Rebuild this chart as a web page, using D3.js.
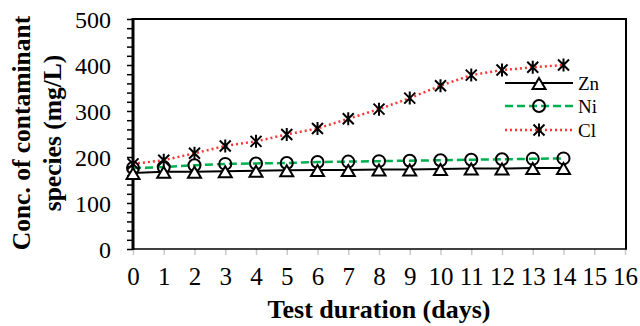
<!DOCTYPE html>
<html><head><meta charset="utf-8">
<script src="https://cdn.jsdelivr.net/npm/d3@7"></script>
<style>body{margin:0;background:#fff}svg{display:block}</style>
</head><body>
<svg id="c" width="640" height="326"></svg>
<script>
const days = [0,1,2,3,4,5,6,7,8,9,10,11,12,13,14];
const zn = [165,168,168,169,170,171,172,172,173,173,174,175,175,176,176];
const ni = [176,178,182,185,186,187,189,190,191,192,193,194,195,196,197];
const cl = [185,193,208,224,234,249,262,283,304,328,355,378,389,395,400];
const xTicks = d3.range(0,17);
const yTicks = [0,100,200,300,400,500];
const seriesNames = ["Zn","Ni","Cl"];

const FF = '"Liberation Serif"';
const svg = d3.select("#c");
const L=133, R=626, T=19, B=249;
const x = d3.scaleLinear().domain([0,16]).range([L,625]);
const y = d3.scaleLinear().domain([0,500]).range([B,T]);

// x axis ticks (gray)
const xa = svg.append("g").attr("transform",`translate(0,${B})`)
  .call(d3.axisBottom(x).tickValues(xTicks).tickSize(6).tickSizeOuter(0).tickFormat(d3.format("d")));
xa.select(".domain").remove();
xa.selectAll(".tick line").attr("stroke","#c8c8c8").attr("stroke-width",1.5);
xa.selectAll(".tick text").style("font-family",FF).style("font-size","25px").attr("fill","#000").attr("dy","0.95em").attr("y",12);

// y axis
const ya = svg.append("g").attr("transform",`translate(${L},0)`)
  .call(d3.axisLeft(y).tickValues(d3.range(0,501,20)).tickSize(6).tickSizeOuter(0)
    .tickFormat(d=> yTicks.includes(d)? d : ""));
ya.select(".domain").remove();
ya.selectAll(".tick line").attr("stroke","#000").attr("stroke-width",1.5);
ya.selectAll(".tick text").style("font-family",FF).style("font-size","24px").attr("fill","#000").attr("x",-22).attr("dy","0.35em");

// frame
svg.append("line").attr("x1",L).attr("x2",R+1).attr("y1",T).attr("y2",T).attr("stroke","#000").attr("stroke-width",2);
svg.append("line").attr("x1",R).attr("x2",R).attr("y1",T).attr("y2",B).attr("stroke","#000").attr("stroke-width",2);
svg.append("line").attr("x1",L).attr("x2",R+1).attr("y1",B).attr("y2",B).attr("stroke","#000").attr("stroke-width",1.5);
svg.append("line").attr("x1",L).attr("x2",L).attr("y1",T-1).attr("y2",B+1).attr("stroke","#000").attr("stroke-width",3);

const line = d3.line().x((d,i)=>x(days[i])).y(d=>y(d));
const styles = {
  Zn:{data:zn, color:"#000", dash:null, width:2},
  Ni:{data:ni, color:"#00b050", dash:"8,4", width:2.5},
  Cl:{data:cl, color:"#ff3333", dash:"2,3", width:2.5}
};

function marker(g, name, cx, cy){
  if(name==="Zn"){
    g.append("path").attr("d",`M${cx},${cy-5}L${cx+6.5},${cy+6}L${cx-6.5},${cy+6}Z`)
      .attr("fill","#fff").attr("stroke","#000").attr("stroke-width",2);
  } else if(name==="Ni"){
    g.append("circle").attr("cx",cx).attr("cy",cy).attr("r",6)
      .attr("fill","none").attr("stroke","#000").attr("stroke-width",2);
  } else {
    const s=5.5;
    g.append("path").attr("d",`M${cx-s},${cy-s}L${cx+s},${cy+s}M${cx-s},${cy+s}L${cx+s},${cy-s}M${cx},${cy-s-1}L${cx},${cy+s+1}`)
      .attr("stroke","#000").attr("stroke-width",2);
  }
}

seriesNames.forEach(n=>{
  const s=styles[n];
  svg.append("path").datum(s.data).attr("d",line).attr("fill","none")
    .attr("stroke",s.color).attr("stroke-width",s.width).attr("stroke-dasharray",s.dash);
});
["Cl","Ni","Zn"].forEach(n=>{
  const g=svg.append("g");
  styles[n].data.forEach((v,i)=>marker(g,n,x(days[i]),y(v)));
});

// legend
const legY=[83,106,130];
seriesNames.forEach((n,i)=>{
  const s=styles[n];
  svg.append("line").attr("x1",505).attr("x2",573).attr("y1",legY[i]).attr("y2",legY[i])
    .attr("stroke",s.color).attr("stroke-width",s.width).attr("stroke-dasharray",s.dash);
  marker(svg,n,539,legY[i]);
  svg.append("text").attr("x",578).attr("y",legY[i]).attr("dy","0.35em")
    .style("font-family",FF).style("font-size","19px").text(n);
});

// axis titles
svg.append("text").attr("x",(L+625)/2).attr("y",318).attr("text-anchor","middle")
  .style("font-family",FF).style("font-size","26px").style("font-weight","bold").text("Test duration (days)");
const yt = svg.append("text").attr("transform",`translate(22,${(T+B)/2-1}) rotate(-90)`)
  .attr("text-anchor","middle").style("font-family",FF).style("font-size","25.5px").style("font-weight","bold");
yt.append("tspan").attr("x",0).attr("y",8).text("Conc. of contaminant");
yt.append("tspan").attr("x",0).attr("y",39).text("species (mg/L)");
</script>
</body></html>
